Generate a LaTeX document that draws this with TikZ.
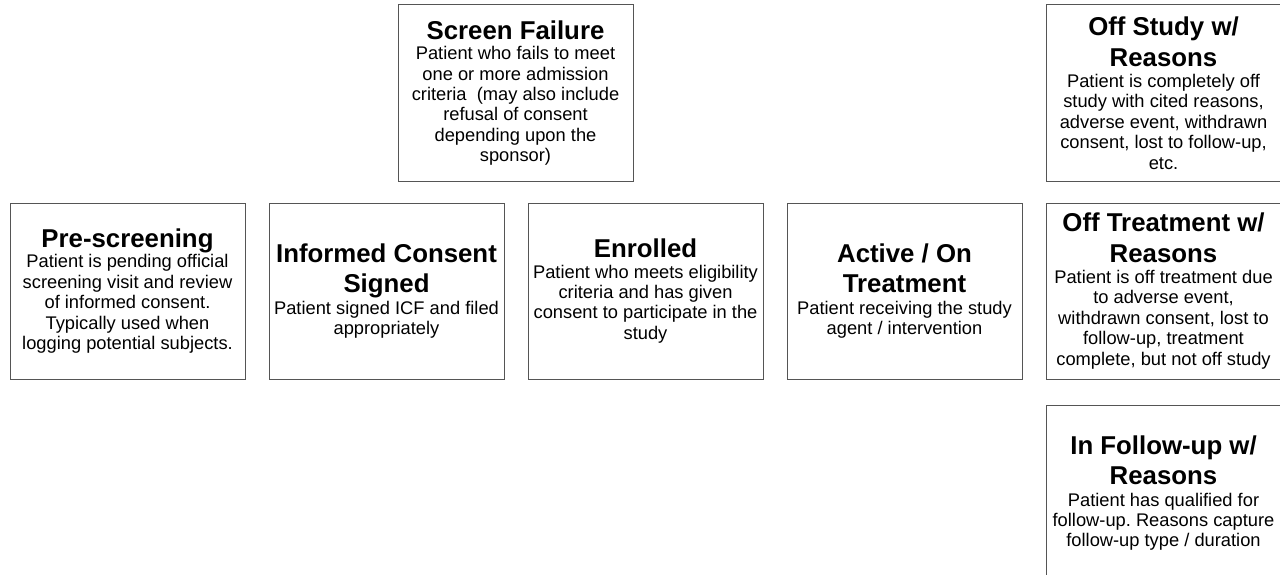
\documentclass[tikz,border=0pt]{standalone}
\usepackage{fontspec}
\setmainfont{Liberation Sans}
\definecolor{boxline}{RGB}{85,85,85}
\newcommand{\tfont}{\fontsize{25.8}{30.5}\selectfont\bfseries\spaceskip=\fontdimen2\font\xspaceskip=\fontdimen2\font\relax}
\newcommand{\bfont}{\fontsize{18.3}{20.4}\selectfont\mdseries\spaceskip=\fontdimen2\font\xspaceskip=\fontdimen2\font\relax}
\begin{document}
\begin{tikzpicture}[x=1pt,y=-1pt,
  stbox/.style={draw=boxline,line width=1pt,fill=white,rectangle,inner sep=0pt,
    minimum width=235pt,minimum height=176pt,text width=234pt,align=center}]
\clip (0,0) rectangle (1280,575);
\fill[white] (0,0) rectangle (1280,575);
\node[stbox] (sf) at (515.5,93) {\tfont Screen Failure\par
  \bfont Patient who fails to meet\\one or more admission\\criteria\ \ (may also include\\refusal of consent\\depending upon the\\sponsor)\par};
\node[stbox] (os) at (1163.5,93) {\tfont Off Study w/\\Reasons\par\vspace{1pt}
  \bfont Patient is completely off\\study with cited reasons,\\adverse event, withdrawn\\consent, lost to follow-up,\\etc.\par};
\node[stbox] (pre) at (127.5,291) {\tfont Pre-screening\par
  \bfont Patient is pending official\\screening visit and review\\of informed consent.\\Typically used when\\logging potential subjects.\par};
\node[stbox] (ic) at (386.5,291) {\tfont Informed Consent\\Signed\par\vspace{1pt}
  \bfont Patient signed ICF and filed\\appropriately\par};
\node[stbox] (en) at (645.5,291) {\tfont Enrolled\par
  \bfont Patient who meets eligibility\\criteria and has given\\consent to participate in the\\study\par};
\node[stbox] (ac) at (904.5,291) {\tfont Active / On\\Treatment\par\vspace{1pt}
  \bfont Patient receiving the study\\agent / intervention\par};
\node[stbox] (ot) at (1163.5,291) {\tfont Off Treatment w/\\Reasons\par\vspace{1pt}
  \bfont Patient is off treatment due\\to adverse event,\\withdrawn consent, lost to\\follow-up, treatment\\complete, but not off study\par};
\node[stbox] (fu) at (1163.5,493) {\tfont In Follow-up w/\\Reasons\par\vspace{1pt}
  \bfont Patient has qualified for\\follow-up. Reasons capture\\follow-up type / duration\par};
\end{tikzpicture}
\end{document}
